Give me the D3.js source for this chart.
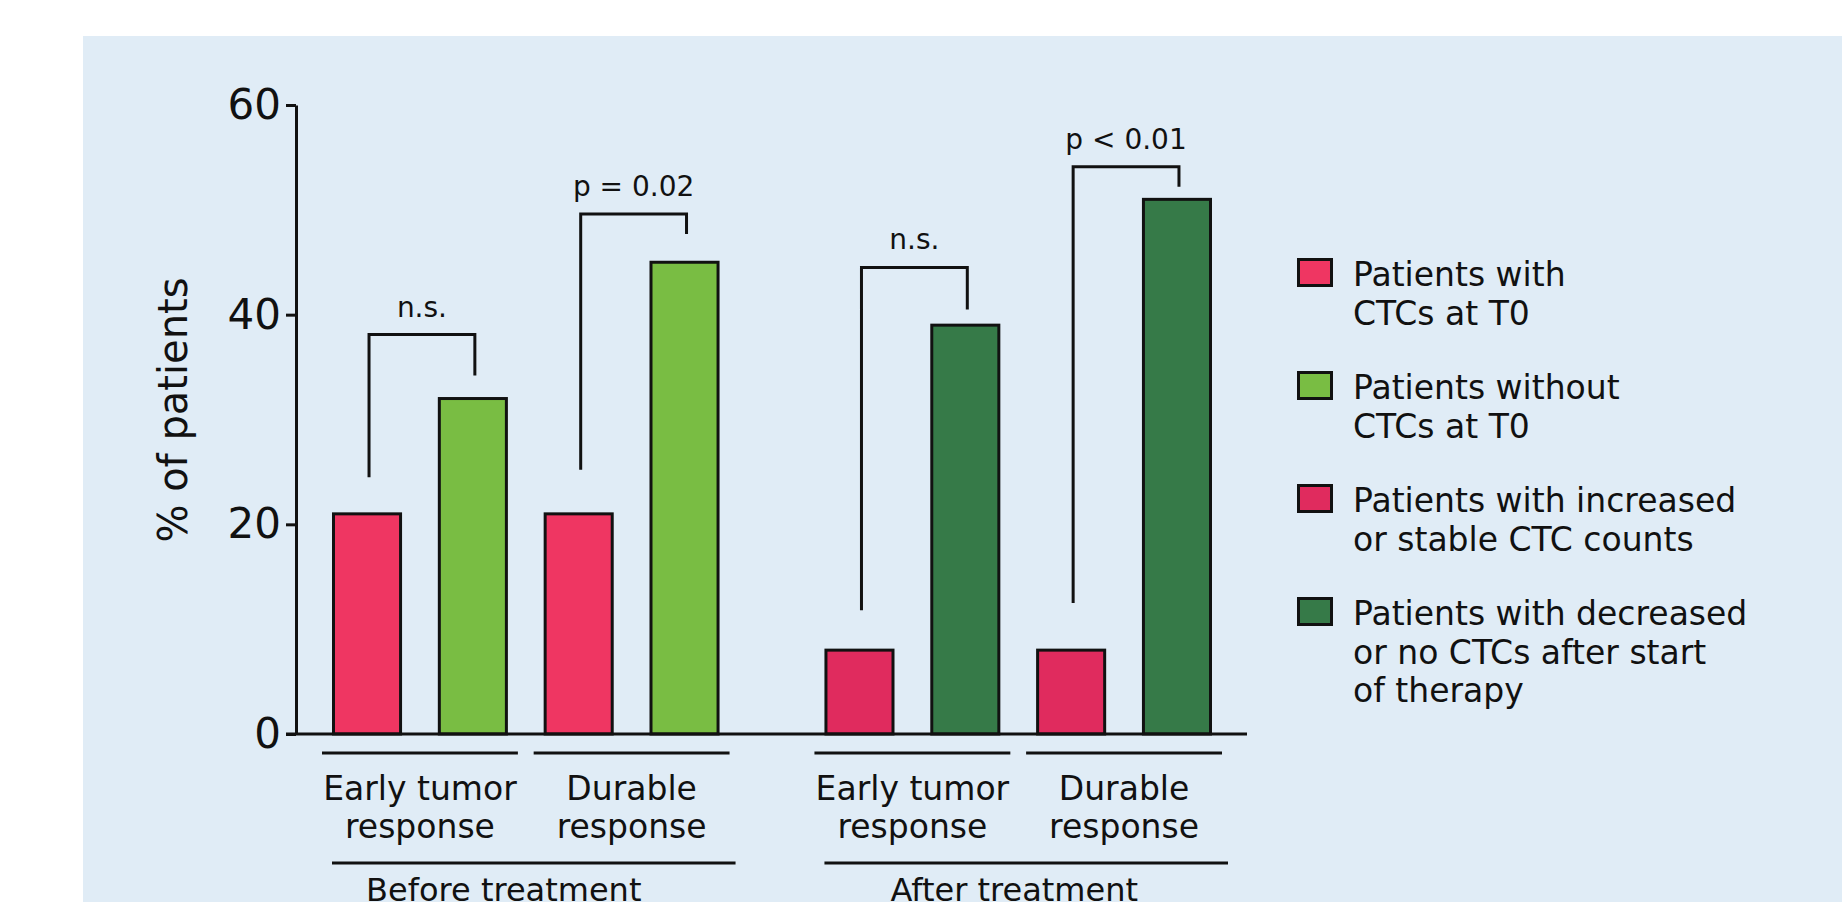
<!DOCTYPE html>
<html>
<head>
<meta charset="utf-8">
<script src="https://cdn.jsdelivr.net/npm/d3@7"></script>
<style>
  body { margin: 0; background: #fff; }
  text { font-family: "DejaVu Sans", sans-serif; fill: #111; }
</style>
</head>
<body>
<svg id="chart" width="1842" height="902"></svg>
<script>
// data
var phases = ["Before treatment", "After treatment"];
var responses = ["Early tumor|response", "Durable|response"];
// first series in each phase (patients with CTCs / increased or stable CTCs)
var firstSeries = [[21, 21], [8, 8]];
// second series (patients without CTCs / decreased or no CTCs)
var secondSeries = [[32, 45], [39, 51]];
var seriesColors = [["#ef3662", "#79bd43"], ["#e02b5e", "#367a48"]];
var yTicks = [0, 20, 40, 60];

// significance brackets, in order: before-early, before-durable, after-early, after-durable
var pLabels = ["n.s.", "p = 0.02", "n.s.", "p < 0.01"];
var bracketTop = [38.1, 49.6, 44.5, 54.1];
var bracketLeftEnd = [24.5, 25.2, 11.8, 12.5];
var bracketRightEnd = [34.2, 47.7, 40.5, 52.2];

var legendLabels = [
  "Patients with|CTCs at T0",
  "Patients without|CTCs at T0",
  "Patients with increased|or stable CTC counts",
  "Patients with decreased|or no CTCs after start|of therapy"
];
var legendColors = ["#ef3662", "#79bd43", "#e02b5e", "#367a48"];

var svg = d3.select("#chart");

// light blue panel
svg.append("rect")
  .attr("x", 83).attr("y", 36)
  .attr("width", 1842 - 83).attr("height", 902 - 36)
  .attr("fill", "#e0ecf6");

var axisX = 296;
var y = d3.scaleLinear().domain([0, 60]).range([734, 105]);

var xPhase = d3.scaleBand().domain(phases).range([332, 1212]).paddingInner(0.213);
var xResp = d3.scaleBand().domain(responses).range([0, xPhase.bandwidth()]).paddingInner(0.169);
var xSer = d3.scaleBand().domain([0, 1]).range([0, xResp.bandwidth()]).paddingInner(0.338);

// flatten bars
var bars = [];
phases.forEach(function(p, pi) {
  responses.forEach(function(r, ri) {
    [firstSeries, secondSeries].forEach(function(s, si) {
      bars.push({phase: p, resp: r, ser: si, value: s[pi][ri], color: seriesColors[pi][si]});
    });
  });
});

function barX(d) { return xPhase(d.phase) + xResp(d.resp) + xSer(d.ser); }

svg.selectAll(".bar")
  .data(bars)
  .enter()
  .append("rect")
  .attr("class", "bar")
  .attr("x", function(d) { return barX(d) + 1.5; })
  .attr("width", xSer.bandwidth() - 3)
  .attr("y", function(d) { return y(d.value); })
  .attr("height", function(d) { return y(0) - y(d.value); })
  .attr("fill", function(d) { return d.color; })
  .attr("stroke", "#111")
  .attr("stroke-width", 3);

// y axis
var yAxis = svg.append("g")
  .attr("transform", "translate(" + axisX + ",0)")
  .call(d3.axisLeft(y).tickValues(yTicks).tickSize(10).tickSizeOuter(0).tickPadding(5));
yAxis.select(".domain").attr("stroke", "#111").attr("stroke-width", 3);
yAxis.selectAll(".tick line").attr("stroke", "#111").attr("stroke-width", 3);
yAxis.selectAll(".tick text")
  .style("font-family", "DejaVu Sans, sans-serif")
  .style("font-size", "42px")
  .attr("fill", "#111");

// baseline
svg.append("line")
  .attr("x1", axisX - 10).attr("x2", 1247)
  .attr("y1", y(0)).attr("y2", y(0))
  .attr("stroke", "#111").attr("stroke-width", 3);

svg.append("text")
  .attr("transform", "translate(187," + 410 + ") rotate(-90)")
  .attr("text-anchor", "middle")
  .style("font-size", "40px")
  .text("% of patients");

// brackets
var k = 0;
phases.forEach(function(p, pi) {
  responses.forEach(function(r, ri) {
    var x0 = xPhase(p) + xResp(r) + xSer(0) + xSer.bandwidth() / 2 + 2;
    var x1 = xPhase(p) + xResp(r) + xSer(1) + xSer.bandwidth() / 2 + 2;
    svg.append("path")
      .attr("d", "M" + x0 + "," + y(bracketLeftEnd[k]) + "V" + y(bracketTop[k]) +
                 "H" + x1 + "V" + y(bracketRightEnd[k]))
      .attr("fill", "none")
      .attr("stroke", "#111")
      .attr("stroke-width", 3);
    svg.append("text")
      .attr("x", (x0 + x1) / 2)
      .attr("y", y(bracketTop[k]) - 18)
      .attr("text-anchor", "middle")
      .style("font-size", "28px")
      .text(pLabels[k]);
    k++;
  });
});

// response labels with underlines
phases.forEach(function(p) {
  responses.forEach(function(r) {
    var left = xPhase(p) + xResp(r);
    var right = left + xResp.bandwidth();
    svg.append("line")
      .attr("x1", left - 10).attr("x2", right + 10)
      .attr("y1", 753).attr("y2", 753)
      .attr("stroke", "#111").attr("stroke-width", 3);
    var t = svg.append("text")
      .attr("x", (left + right) / 2)
      .attr("y", 800)
      .attr("text-anchor", "middle")
      .style("font-size", "33px");
    r.split("|").forEach(function(line, i) {
      t.append("tspan").attr("x", (left + right) / 2).attr("dy", i ? 38 : 0).text(line);
    });
  });
  // phase label
  var pl = xPhase(p), pr = pl + xPhase.bandwidth();
  svg.append("line")
    .attr("x1", pl).attr("x2", pr + 16)
    .attr("y1", 863).attr("y2", 863)
    .attr("stroke", "#111").attr("stroke-width", 3);
  svg.append("text")
    .attr("x", (pl + pr) / 2 + (p === phases[0] ? -22 : -4))
    .attr("y", 901)
    .attr("text-anchor", "middle")
    .style("font-size", "32px")
    .text(p);
});

// legend
var legend = svg.selectAll(".legend")
  .data(legendLabels)
  .enter()
  .append("g")
  .attr("class", "legend")
  .attr("transform", function(d, i) { return "translate(1297," + (258 + i * 113) + ")"; });

legend.append("rect")
  .attr("x", 1.5).attr("y", 1.5)
  .attr("width", 33).attr("height", 26)
  .attr("fill", function(d, i) { return legendColors[i]; })
  .attr("stroke", "#111")
  .attr("stroke-width", 3);

legend.append("text")
  .attr("x", 56)
  .attr("y", 28)
  .style("font-size", "33px")
  .each(function(d) {
    var t = d3.select(this);
    d.split("|").forEach(function(line, i) {
      t.append("tspan").attr("x", 56).attr("dy", i ? 38.5 : 0).text(line);
    });
  });
</script>
</body>
</html>
